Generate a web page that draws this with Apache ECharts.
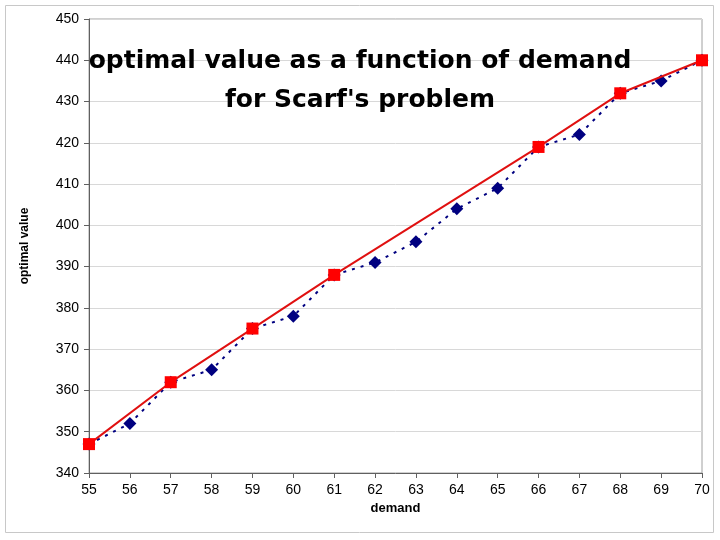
<!DOCTYPE html>
<html><head><meta charset="utf-8">
<script src="https://cdn.jsdelivr.net/npm/echarts@6/dist/echarts.min.js"></script>
<style>html,body{margin:0;padding:0;background:#fff}#c{width:720px;height:540px}</style>
</head><body><div id="c"></div>
<script>
const demand = [55,56,57,58,59,60,61,62,63,64,65,66,67,68,69,70];
const optimalValues = [347,352,362,365,375,378,388,391,396,404,409,419,422,432,435,440];
const hullDemand = [55,57,59,61,66,68,70];
const hullValues = [347,362,375,388,419,432,440];
const titleLines = ['optimal value as a function of demand', "for Scarf's problem"];

const chart = echarts.init(document.getElementById('c'));
chart.setOption({
  animation:false,
  backgroundColor:'#fff',
  graphic:[{type:'rect',shape:{x:5.5,y:5.5,width:708,height:527},style:{fill:'none',stroke:'#c8c8c8',lineWidth:1}}],
  title:{text:titleLines.join('\n'),left:'center',top:37,
    textStyle:{fontFamily:'DejaVu Sans',fontWeight:'bold',fontSize:25,lineHeight:39,color:'#000'}},
  grid:{left:89,right:18,top:19,bottom:67,show:true,borderColor:'#a0a0a0',borderWidth:1},
  xAxis:{type:'value',min:55,max:70,interval:1,
    name:'demand',nameLocation:'middle',nameGap:23,
    nameTextStyle:{fontFamily:'Liberation Sans',fontWeight:'bold',fontSize:13,color:'#000'},
    axisLine:{lineStyle:{color:'#606060'}},axisTick:{show:true,length:5,lineStyle:{color:'#606060'}},
    axisLabel:{fontFamily:'Liberation Sans',fontSize:14,color:'#000',margin:10},
    splitLine:{show:false}},
  yAxis:{type:'value',min:340,max:450,interval:10,
    name:'optimal value',nameLocation:'middle',nameGap:58,
    nameTextStyle:{fontFamily:'Liberation Sans',fontWeight:'bold',fontSize:12,color:'#000'},
    axisLine:{show:true,lineStyle:{color:'#606060'}},axisTick:{show:true,length:5,lineStyle:{color:'#606060'}},
    axisLabel:{fontFamily:'Liberation Sans',fontSize:14,color:'#000',margin:10},
    splitLine:{show:true,lineStyle:{color:'#d8d8d8'}}},
  series:[
    {type:'line',data:demand.map((d,i)=>[d,optimalValues[i]]),
     symbol:'diamond',symbolSize:13,itemStyle:{color:'#000080'},
     lineStyle:{color:'#000080',width:2,type:[3,6]},z:2},
    {type:'line',data:hullDemand.map((d,i)=>[d,hullValues[i]]),
     symbol:'rect',symbolSize:12,itemStyle:{color:'#ff0000'},
     lineStyle:{color:'#e01010',width:2},z:3}
  ]
});
</script></body></html>
